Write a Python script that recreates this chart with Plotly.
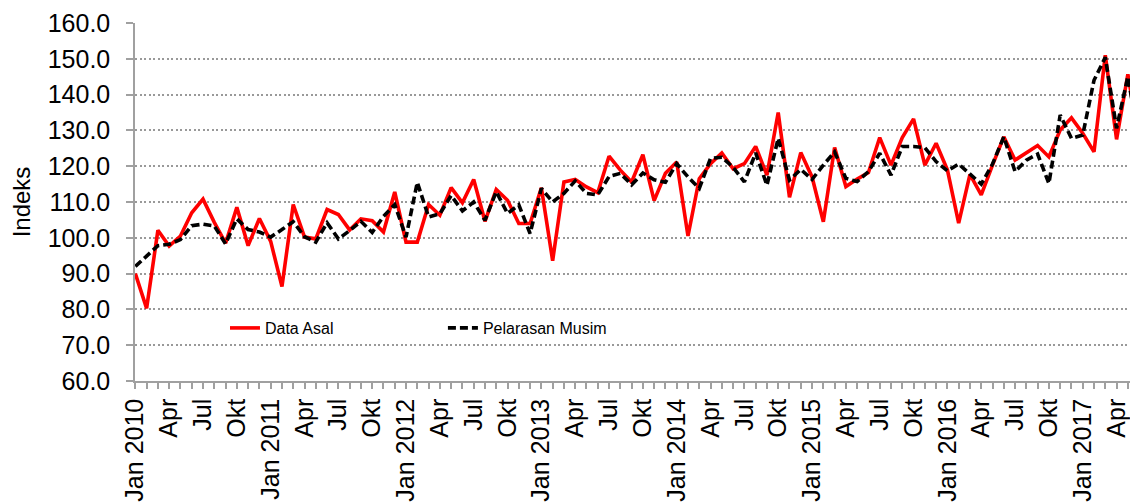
import plotly.graph_objects as go

years = [2010, 2011, 2012, 2013, 2014, 2015, 2016, 2017]
month_names = ["Jan", "Feb", "Mar", "Apr", "Mei", "Jun", "Jul", "Agu", "Sep", "Okt", "Nov", "Des"]
labelled_months = {"Apr": "Apr", "Jul": "Jul", "Okt": "Okt"}

data_asal = [
    90.0, 80.3, 102.1, 97.7, 100.5, 107.0, 110.8, 104.3, 98.5, 108.5, 97.8, 105.4,
    99.0, 86.4, 109.3, 100.2, 99.7, 107.9, 106.5, 102.2, 105.3, 104.8, 101.6, 112.8,
    98.8, 98.8, 109.3, 106.3, 114.0, 109.8, 116.3, 104.6, 113.5, 110.5, 104.0, 104.0,
    114.0, 93.6, 115.6, 116.3, 114.2, 112.6, 122.8, 118.9, 115.6, 123.2, 110.4, 118.0,
    121.2, 100.5, 116.5, 120.7, 123.7, 119.3, 120.7, 125.5, 117.5, 135.0, 111.3, 123.8,
    117.0, 104.5, 125.2, 114.3, 116.4, 118.2, 128.0, 120.3, 128.0, 133.2, 120.3, 126.4,
    119.0, 104.1, 117.7, 112.0, 120.3, 128.2, 121.7, 123.8, 125.8, 122.6, 130.1, 133.5,
    129.2, 124.0, 151.0, 127.5, 145.7, 127.0,
]

pelarasan_musim = [
    92.0, 95.0, 97.8, 98.2, 99.5, 103.4, 103.8, 103.3, 98.3, 105.3, 102.3, 101.6,
    100.2, 102.3, 104.5, 100.3, 98.8, 104.2, 99.7, 102.0, 104.6, 101.5, 106.0, 109.3,
    100.2, 115.5, 105.8, 106.7, 111.8, 107.5, 110.0, 104.9, 112.9, 106.8, 109.2, 101.2,
    113.8, 110.0, 112.4, 115.9, 112.4, 112.0, 117.1, 118.0, 114.8, 118.1, 116.2, 115.5,
    120.7, 117.0, 113.8, 122.2, 122.5, 119.7, 115.6, 123.7, 114.7, 127.8, 116.1, 119.1,
    116.3, 120.3, 124.0, 116.6, 115.7, 118.5, 123.6, 117.5, 125.5, 125.5, 125.2, 121.3,
    118.7, 120.6, 117.8, 115.0, 120.6, 128.2, 118.5, 121.7, 123.4, 115.2, 134.3, 127.8,
    128.7, 144.0, 150.4, 130.6, 145.0, 127.0,
]

n = len(data_asal)
categories = []
tick_labels = []
for i in range(n):
    y = years[i // 12]
    m = month_names[i % 12]
    categories.append(f"{m} {y}")
    if m == "Jan":
        tick_labels.append(f"Jan {y}")
    elif m in labelled_months:
        tick_labels.append(labelled_months[m])
    else:
        tick_labels.append("")

FONT = "Liberation Sans, Arial, sans-serif"
GRAY = "#a0a0a0"

fig = go.Figure()
fig.add_trace(go.Scatter(
    x=categories, y=data_asal, mode="lines", name="Data Asal",
    line=dict(color="#ff0000", width=3.6), legend="legend",
))
fig.add_trace(go.Scatter(
    x=categories, y=pelarasan_musim, mode="lines", name="Pelarasan Musim",
    line=dict(color="#000000", width=3.6, dash="8px,4px"), legend="legend2",
))

# the page body has an 8px margin; the figure is offset 8px right/down in the window
fig.update_layout(
    width=1130, height=496,
    margin=dict(l=127, r=0, t=15, b=123, autoexpand=False),
    paper_bgcolor="white", plot_bgcolor="white",
    font=dict(family=FONT, size=25, color="black"),
    legend=dict(x=0.0897, y=0.148, xanchor="left", yanchor="middle",
                font=dict(size=16), bgcolor="rgba(0,0,0,0)", borderwidth=0),
    legend2=dict(x=0.307, y=0.148, xanchor="left", yanchor="middle",
                 font=dict(size=16), bgcolor="rgba(0,0,0,0)", borderwidth=0),
    showlegend=True,
)

fig.update_xaxes(
    type="category", range=[-0.03, 88.9], automargin=False,
    tickmode="array", tickvals=categories, ticktext=tick_labels,
    tickangle=-90, ticks="outside", ticklen=6, tickcolor=GRAY, tickwidth=1.5,
    showline=True, linecolor=GRAY, linewidth=1.5, showgrid=False, zeroline=False,
    tickfont=dict(size=25, color="black"), ticklabelstandoff=0,
)
fig.update_yaxes(
    range=[60, 160], dtick=10, tick0=60, tickformat=".1f", automargin=False,
    ticks="outside", ticklen=7, tickcolor=GRAY, tickwidth=1.5,
    showline=True, linecolor=GRAY, linewidth=1.5,
    showgrid=True, gridcolor="#999999", griddash="2px,2.5px", gridwidth=1.5,
    zeroline=False, tickfont=dict(size=25, color="black"), ticklabelstandoff=11,
    title=dict(text="Indeks", font=dict(size=24, color="black"), standoff=10),
)

fig.write_html("out.html")
